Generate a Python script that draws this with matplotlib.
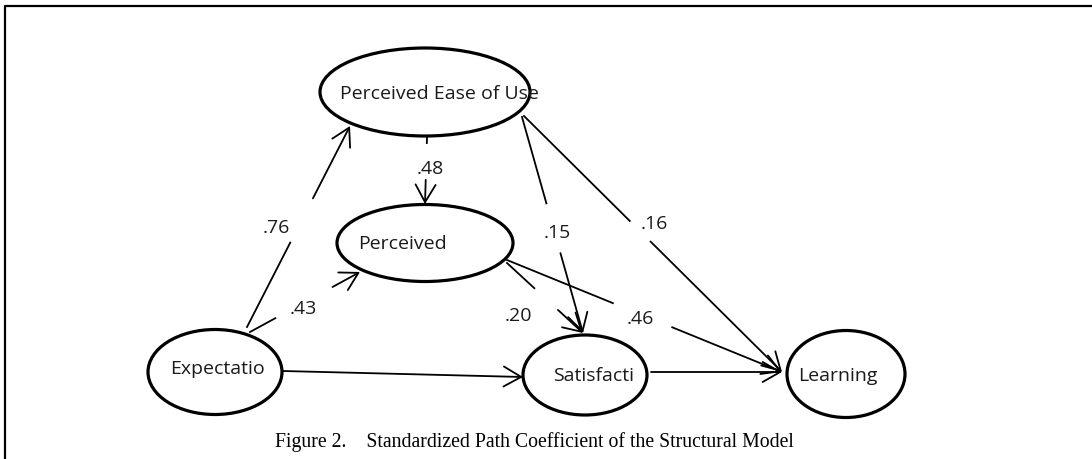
import matplotlib
matplotlib.use("Agg")
import matplotlib.pyplot as plt
from matplotlib.patches import Ellipse, FancyArrowPatch
import numpy as np

# ---- data ----
nodes = ["Expectatio", "Perceived Ease of Use", "Perceived", "Satisfacti", "Learning"]
edge_src = ["Expectatio", "Expectatio", "Perceived Ease of Use", "Perceived Ease of Use",
            "Perceived Ease of Use", "Perceived", "Perceived", "Expectatio", "Satisfacti"]
edge_dst = ["Perceived Ease of Use", "Perceived", "Perceived", "Satisfacti",
            "Learning", "Satisfacti", "Learning", "Satisfacti", "Learning"]
coefs = [".76", ".43", ".48", ".15", ".16", ".20", ".46", "", ""]
caption = "Figure 2.    Standardized Path Coefficient of the Structural Model"

# ---- layout (pixel space, y downwards) ----
ell = {  # center x, center y, width, height
    "Perceived Ease of Use": (425, 92, 210, 88),
    "Perceived": (425, 243, 176, 77),
    "Expectatio": (215, 372, 134, 85),
    "Satisfacti": (585, 375, 124, 80),
    "Learning": (846, 374, 118, 87),
}
text_left = {
    "Perceived Ease of Use": (340, 94),
    "Perceived": (358, 244),
    "Expectatio": (170, 369),
    "Satisfacti": (553, 376),
    "Learning": (798, 376),
}
# start point, end point, gap fractions, label position
edge_geom = [
    ((247, 327), (350, 126), (0.42, 0.64), (276, 228)),
    ((250, 332), (360, 272), (0.23, 0.75), (303, 309)),
    ((427, 137), (425, 204), (0.09, 0.64), (430, 169)),
    ((522, 117), (583, 333), (0.40, 0.63), (557, 233)),
    ((524, 116), (782, 372), (0.41, 0.49), (654, 224)),
    ((507, 263), (583, 333), (0.36, 0.67), (518, 316)),
    ((507, 260), (782, 372), (0.385, 0.60), (640, 319)),
    ((283, 371), (523, 377), None, None),
    ((651, 372), (782, 372), None, None),
]

W, H = 1092, 459
fig = plt.figure(figsize=(W / 100, H / 100), dpi=100)
ax = fig.add_axes([0, 0, 1, 1])
ax.set_xlim(0, W)
ax.set_ylim(H, 0)
ax.axis("off")

font = "Open Sans"

# frame
ax.plot([5, 5, W + 5], [H + 5, 6, 6], color="black", lw=1.6, solid_capstyle="butt")

# nodes
for n in nodes:
    cx, cy, w, h = ell[n]
    ax.add_patch(Ellipse((cx, cy), w, h, fill=False, ec="black", lw=2.3, zorder=3))
    tx, ty = text_left[n]
    ax.text(tx, ty, n, ha="left", va="center", fontsize=14, family=font, color="#1a1a1a", zorder=4)

# edges
for (s, d, c, (p0, p1, gap, lab)) in zip(edge_src, edge_dst, coefs, edge_geom):
    p0 = np.array(p0, float)
    p1 = np.array(p1, float)
    if gap is not None:
        a = p0 + (p1 - p0) * gap[0]
        b = p0 + (p1 - p0) * gap[1]
        ax.plot([p0[0], a[0]], [p0[1], a[1]], color="black", lw=1.3, zorder=2)
        start = b
    else:
        start = p0
    arr = FancyArrowPatch(tuple(start), tuple(p1), arrowstyle="->,head_length=7,head_width=4",
                          color="black", lw=1.3, shrinkA=0, shrinkB=0, mutation_scale=1.8, zorder=2)
    ax.add_patch(arr)
    if c:
        ax.text(lab[0], lab[1], c, ha="center", va="center", fontsize=14, family=font,
                color="#1a1a1a", zorder=4)

ax.text(534, 442, caption, ha="center", va="center", fontsize=14.2, family="Liberation Serif",
        color="black")

fig.savefig("out.png", dpi=100)
